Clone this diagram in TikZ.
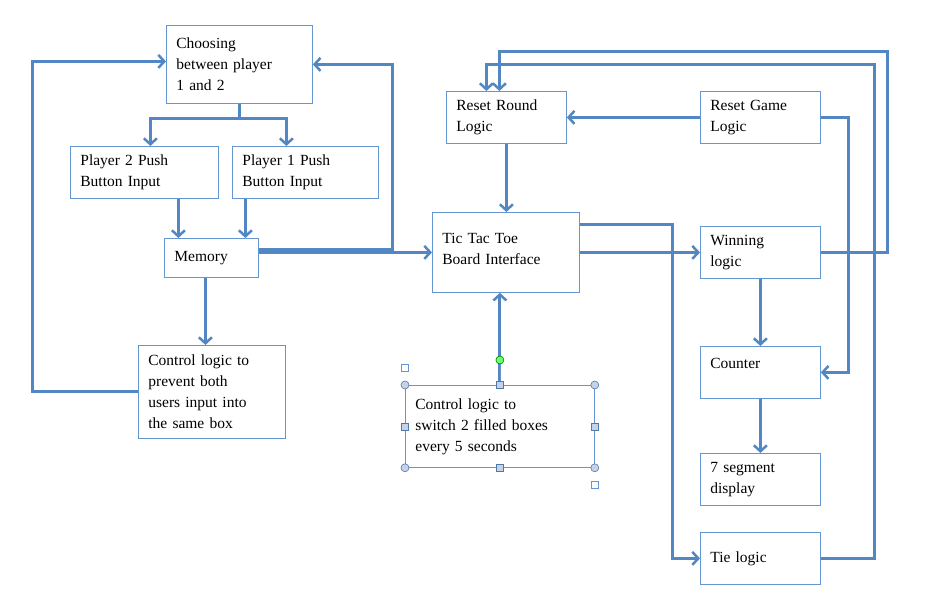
\documentclass[tikz,border=0pt]{standalone}
\usepackage{fontspec}
\setmainfont{Liberation Serif}
\usetikzlibrary{arrows.meta}
\definecolor{boxblue}{RGB}{100,150,210}
\definecolor{linkblue}{RGB}{83,135,195}
\definecolor{hdl}{RGB}{200,210,230}

\begin{document}
\begin{tikzpicture}[x=1pt,y=-1pt]
		\tikzstyle{block}=[draw=boxblue,line width=0.8pt,anchor=north west,align=left,inner xsep=10pt,font=\fontsize{15.5}{21}\selectfont]
		\tikzstyle{link}=[draw=linkblue,line width=3pt,-{Straight Barb[length=6pt,width=13pt,line width=2.5pt]}]
		\tikzstyle{handle}=[draw=boxblue!80!black,fill=hdl,line width=0.6pt]
		\useasboundingbox (0,0) rectangle (929,604);
		
		% Left group
		\node[block,minimum width=146,minimum height=78,text width=126] (choose) at (166,25) {Choosing\\between player\\1 and 2};
		\node[block,minimum width=148,minimum height=52,text width=128] (p2) at (70,146) {Player 2 Push\\Button Input};
		\node[block,minimum width=146,minimum height=52,text width=126] (p1) at (232,146) {Player 1 Push\\Button Input};
		\node[block,minimum width=94,minimum height=39,text width=74] (mem) at (164,238) {Memory};
		\node[block,minimum width=147,minimum height=93,text width=127] (ctrl) at (138,345) {Control logic to\\prevent both\\users input into\\the same box};
		
		% Middle group
		\node[block,minimum width=120,minimum height=52,text width=100] (rround) at (446,91) {Reset Round\\Logic};
		\node[block,minimum width=147,minimum height=80,text width=127,text depth=28pt] (tic) at (432,212) {Tic Tac Toe\\Board Interface};
		\node[block,minimum width=189,minimum height=82,text width=169] (sw) at (405,385) {Control logic to\\switch 2 filled boxes\\every 5 seconds};
		
		% Right group
		\node[block,minimum width=120,minimum height=52,text width=100] (rgame) at (700,91) {Reset Game\\Logic};
		\node[block,minimum width=120,minimum height=52,text width=100] (win) at (700,226) {Winning\\logic};
		\node[block,minimum width=120,minimum height=52,text width=100,text depth=18pt] (counter) at (700,346) {Counter};
		\node[block,minimum width=120,minimum height=52,text width=100] (seg) at (700,453) {7 segment\\display};
		\node[block,minimum width=120,minimum height=52,text width=100] (tie) at (700,532) {Tie logic};
		
		\coordinate (rr1) at ([xshift=-7]rround.north);
		\coordinate (rr2) at ([xshift=-20]rround.north);
		
		% Connect the left group
		\draw[link] (choose.south) -- ++(0,15) -| ([xshift=6]p2.north);
		\draw[link] (choose.south) -- ++(0,15) -| ([xshift=-19]p1.north);
		\draw[link] ([xshift=34]p2.south) -- ([xshift=34]p2.south |- mem.north);
		\draw[link] ([xshift=-60]p1.south) -- ([xshift=-60]p1.south |- mem.north);
		\draw[link] ([xshift=-6]mem.south) -- ([xshift=-6]mem.south |- ctrl.north);
		\draw[link] (ctrl.west) -- ++(-106,0) |- ([yshift=3]choose.west);
		\draw[link] ([yshift=8]mem.east) -- ++(134,0) |- (choose.east);
		\draw[link] (mem.east |- tic.west) -- (tic.west);
		
		% Connect the middle and right groups
		\draw[link] (rround.south) -- (rround.south |- tic.north);
		\draw[link] (rgame.west) -- (rround.east);
		\draw[link] (tic.east) -- (win.west);
		\draw[link] ([yshift=28]tic.east) -- ++(93,0) |- (tie.west);
		\draw[link] (win.south) -- (counter.north);
		\draw[link] (counter.south) -- (seg.north);
		\draw[link] (rgame.east) -- ++(28,0) |- (counter.east);
		\draw[link] (win.east) -- ++(67,0) |- (rr1 |- 0,52) -- (rr1);
		\draw[link] (tie.east) -- ++(54,0) |- (rr2 |- 0,65) -- (rr2);
		\draw[link] (sw.north) -- (sw.north |- tic.south);
		
		% Selection handles
		\draw[boxblue,line width=0.6pt] (sw.north) -- ++(0,-25) node[circle,draw=green!50!black,fill=green!60,line width=0.6pt,minimum size=8pt,inner sep=0pt] (rot) {};
		\foreach \a in {north west,north east,south west,south east}
		\node[handle,circle,minimum size=8pt,inner sep=0pt] at (sw.\a) {};
		\foreach \a in {north,south,west,east}
		\node[handle,minimum size=7pt,inner sep=0pt] at (sw.\a) {};
		\node[draw=boxblue,fill=white,minimum size=7pt,inner sep=0pt] at ([yshift=17]sw.north west) {};
		\node[draw=boxblue,fill=white,minimum size=7pt,inner sep=0pt] at ([yshift=-17]sw.south east) {};
	\end{tikzpicture}
\end{document}
